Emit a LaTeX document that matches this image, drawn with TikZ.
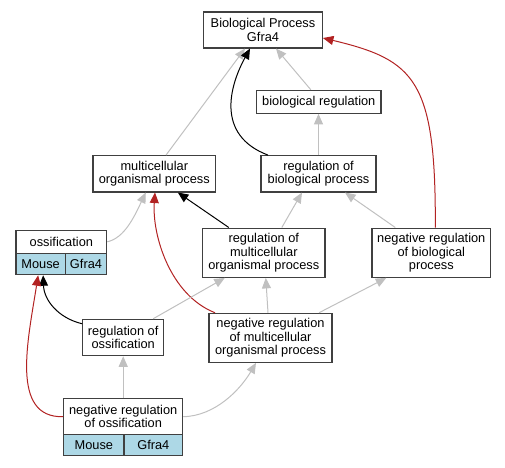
\documentclass[tikz,border=0pt]{standalone}
\usepackage{fontspec}
\setmainfont{Liberation Sans}
\usetikzlibrary{arrows.meta,calc}
\definecolor{edgegray}{HTML}{C0C0C0}
\definecolor{edgered}{HTML}{B22222}
\definecolor{cellblue}{HTML}{ADD8E6}
\definecolor{boxline}{HTML}{404040}
\begin{document}
\begin{tikzpicture}[x=1pt,y=-1pt,
  box/.style={draw=boxline, line width=1.1pt, fill=white, inner sep=0pt, align=center,
              font=\fontsize{12.8}{13.3}\selectfont},
  cell/.style={box, fill=cellblue},
  tip/.style={-{Triangle[length=10.5pt,width=9pt]}},
  gedge/.style={draw=edgegray, line width=1pt, tip},
  bedge/.style={draw=black, line width=1pt, tip},
  redge/.style={draw=edgered, line width=1pt, tip}]
\useasboundingbox (0,0) rectangle (505,467);
% nodes
\node[box, minimum width=118.7pt, minimum height=36pt] (bp) at (263,30) {Biological Process\\Gfra4};
\node[box, minimum width=124.3pt, minimum height=23pt] (br) at (318.8,101.8) {biological regulation};
\node[box, minimum width=122.7pt, minimum height=36.3pt] (mop) at (154.3,173.8) {multicellular\\organismal process};
\node[box, minimum width=115pt, minimum height=36.3pt] (rbp) at (318.5,173.8) {regulation of\\biological process};
\node[box, minimum width=90.7pt, minimum height=23pt] (oss) at (61.35,241.8) {ossification};
\node[cell, minimum width=49.3pt, minimum height=21.4pt] (ossm) at (40.65,264) {Mouse};
\node[cell, minimum width=41.4pt, minimum height=21.4pt] (ossg) at (86,264) {Gfra4};
\node[box, minimum width=122.3pt, minimum height=49.3pt] (rmop) at (263.8,252.7) {regulation of\\multicellular\\organismal process};
\node[box, minimum width=118.7pt, minimum height=49.3pt] (nrbp) at (431.3,252.7) {negative regulation\\of biological\\process};
\node[box, minimum width=81pt, minimum height=36.4pt] (ros) at (123.2,337.5) {regulation of\\ossification};
\node[box, minimum width=123pt, minimum height=49pt] (nmop) at (270.5,337.8) {negative regulation\\of multicellular\\organismal process};
\node[box, minimum width=119pt, minimum height=36pt] (nros) at (123.2,416.7) {negative regulation\\of ossification};
\node[cell, minimum width=60.3pt, minimum height=21pt] (nrosm) at (93.85,445.2) {Mouse};
\node[cell, minimum width=58.7pt, minimum height=21pt] (nrosg) at (153.35,445.2) {Gfra4};
% edges
\draw[gedge] ($(mop.north)+(11.7,0)$) -- ($(bp.south)+(-18,0)$);
\draw[bedge] ($(rbp.north)+(-50.5,0)$) .. controls (215,135) and (230,85) .. ($(bp.south)+(-13,0)$);
\draw[gedge] ($(br.north)+(-8,0)$) -- ($(bp.south)+(13,0)$);
\draw[gedge] (rbp.north) -- (rbp.north |- br.south);
\draw[redge] ($(nrbp.north)+(4,0)$) .. controls (436,80) and (415,60) .. ($(bp.east)+(0,8)$);
\draw[gedge] (oss.east) .. controls (125,238) and (135,215) .. ($(mop.south)+(-8.5,0)$);
\draw[bedge] ($(rmop.north)+(-35,0)$) -- ($(mop.south)+(23.5,0)$);
\draw[redge] ($(nmop.north)+(-55.5,0)$) .. controls (170,295) and (152,235) .. ($(mop.south)+(0.7,0)$);
\draw[gedge] ($(rmop.north)+(18,0)$) -- ($(rbp.south)+(-16.5,0)$);
\draw[gedge] ($(nrbp.north)+(-36,0)$) -- ($(rbp.south)+(26.5,0)$);
\draw[gedge] ($(ros.north)+(30,0)$) -- ($(rmop.south)+(-39,0)$);
\draw[gedge] ($(nmop.north)+(-2.5,0)$) -- ($(rmop.south)+(2,0)$);
\draw[gedge] ($(nmop.north)+(48.5,0)$) -- ($(nrbp.south)+(-45,0)$);
\draw[bedge] ($(ros.north west)+(0,5)$) .. controls (58,318) and (44,300) .. ($(ossm.south)+(2.5,0)$);
\draw[redge] (nros.west) .. controls (10,418) and (28,340) .. ($(ossm.south)+(-2.5,0)$);
\draw[gedge] (nros.north) -- (ros.south);
\draw[gedge] (nros.east) .. controls (215,416) and (240,390) .. ($(nmop.south)+(-14.5,0)$);
\end{tikzpicture}
\end{document}
